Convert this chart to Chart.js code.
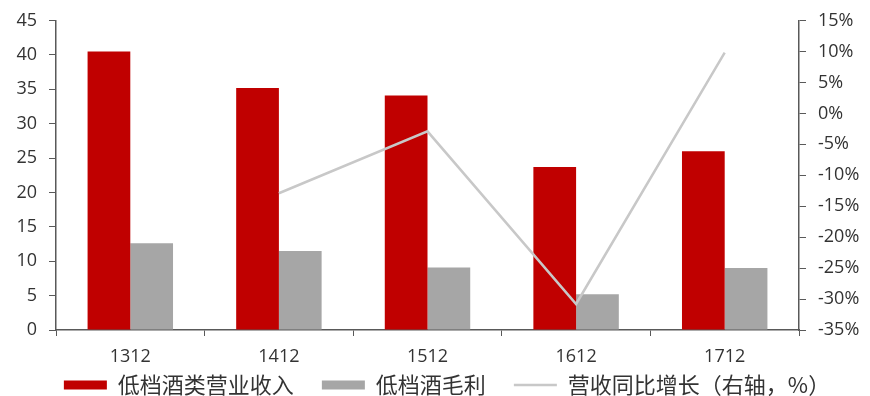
<!DOCTYPE html>
<html><head><meta charset="utf-8">
<script src="https://cdn.jsdelivr.net/npm/chart.js@4/dist/chart.umd.min.js"></script>
<style>html,body{margin:0;padding:0;background:#fff}#wrap{width:870px;height:396px}</style>
</head><body><div id="wrap"><canvas id="c" width="870" height="396"></canvas></div>
<script>
const categories = ['1312','1412','1512','1612','1712'];
const revenue = [40.5, 35.2, 34.1, 23.7, 26.0];
const grossProfit = [12.6, 11.5, 9.1, 5.2, 9.0];
const revenueYoY = [null, -12.9, -2.9, -30.8, 9.8];
const seriesNames = ['低档酒类营业收入','低档酒毛利','营收同比增长（右轴，%）'];

const tickFont = {family:'"Open Sans", sans-serif', size:18};
const yTickFont = {family:'"Open Sans", sans-serif', size:18, lineHeight:0.95};
const axisColor = '#595959';
const legendShift = {
  id:'legendShift',
  afterLayout(chart){
    const l = chart.legend;
    if (!l) return;
    const dy = -24, dx = 12;
    l.top += dy; l.bottom += dy; l.left += dx; l.right += dx;
  }
};
new Chart(document.getElementById('c'), {
  data: {
    labels: categories,
    datasets: [
      {type:'line', label:seriesNames[2], data:revenueYoY, yAxisID:'y1', borderColor:'#c8c8c8', backgroundColor:'#c8c8c8', borderWidth:2.5, pointRadius:0, tension:0, spanGaps:false, order:0},
      {type:'bar', label:seriesNames[0], data:revenue, yAxisID:'y', backgroundColor:'#c00000', order:1, categoryPercentage:0.575, barPercentage:1},
      {type:'bar', label:seriesNames[1], data:grossProfit, yAxisID:'y', backgroundColor:'#a6a6a6', order:2, categoryPercentage:0.575, barPercentage:1}
    ]
  },
  plugins:[legendShift],
  options: {
    responsive:false, animation:false,
    layout:{padding:{top:4, left:0, right:0, bottom:-34}},
    plugins:{
      tooltip:{enabled:false},
      legend:{
        position:'bottom',
        labels:{
          usePointStyle:true, pointStyleWidth:43, boxHeight:9,
          color:'#333', font:{family:'"Noto Sans CJK SC", sans-serif', size:22}, padding:28,
          sort:(a,b)=>[1,2,0].indexOf(a.datasetIndex)-[1,2,0].indexOf(b.datasetIndex),
          generateLabels:(chart)=>{
            const items = Chart.defaults.plugins.legend.labels.generateLabels(chart);
            items.forEach(it=>{
              if (it.datasetIndex===0){ it.pointStyle='line'; it.lineWidth=2.5; it.strokeStyle='#c8c8c8'; }
              else { it.pointStyle='rect'; it.lineWidth=0; }
            });
            return items;
          }
        }
      }
    },
    scales:{
      x:{
        offset:true,
        grid:{offset:true, drawOnChartArea:false, color:axisColor, tickLength:6, tickColor:axisColor},
        border:{color:axisColor, width:1.5},
        ticks:{color:'#333', font:tickFont, padding:10},
        afterFit:(s)=>{ s.height = 40; }
      },
      y:{
        position:'left', min:0, max:45,
        ticks:{stepSize:5, color:'#333', font:yTickFont, padding:12},
        grid:{drawOnChartArea:false, color:axisColor, tickLength:7},
        border:{color:axisColor, width:1.5},
        afterFit:(s)=>{ s.width = 56; }
      },
      y1:{
        position:'right', min:-35, max:15,
        ticks:{stepSize:5, color:'#333', font:yTickFont, padding:12, callback:(v)=>v+'%'},
        grid:{drawOnChartArea:false, color:axisColor, tickLength:7},
        border:{color:axisColor, width:1.5},
        afterFit:(s)=>{ s.width = 71; }
      }
    }
  }
});
</script></body></html>
